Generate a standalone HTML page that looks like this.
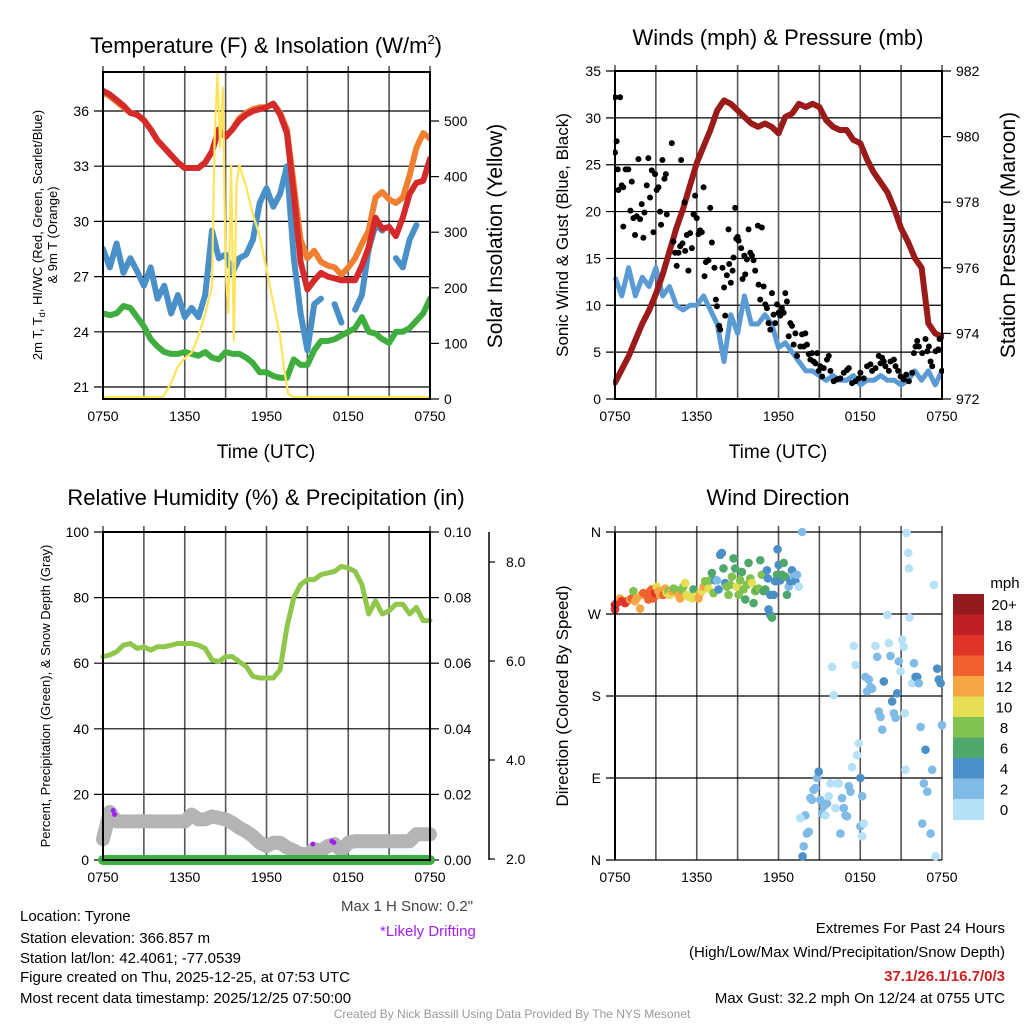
<!DOCTYPE html>
<html><head><meta charset="utf-8"><style>
body{margin:0;background:#fff;}
svg{display:block;font-family:"Liberation Sans",Arial,sans-serif;}
</style></head><body>
<svg id="fig" width="1024" height="1024" viewBox="0 0 1024 1024">
<rect width="1024" height="1024" fill="#fff"/>
<g id="p1"></g>
<g id="p2"></g>
<g id="p3"></g>
<g id="p4"></g>
<g id="txt" font-size="15" fill="#000">
<text x="341" y="911" fill="#444">Max 1 H Snow: 0.2"</text>
<text x="380" y="936" fill="#a020f0">*Likely Drifting</text>
<text x="20" y="921">Location: Tyrone</text>
<text x="20" y="943">Station elevation: 366.857 m</text>
<text x="20" y="963">Station lat/lon: 42.4061; -77.0539</text>
<text x="20" y="982">Figure created on Thu, 2025-12-25, at 07:53 UTC</text>
<text x="20" y="1003">Most recent data timestamp: 2025/12/25 07:50:00</text>
<text x="1005" y="933" text-anchor="end">Extremes For Past 24 Hours</text>
<text x="1005" y="957" text-anchor="end">(High/Low/Max Wind/Precipitation/Snow Depth)</text>
<text x="1005" y="981" text-anchor="end" fill="#cc2020" font-weight="bold">37.1/26.1/16.7/0/3</text>
<text x="1005" y="1003" text-anchor="end">Max Gust: 32.2 mph On 12/24 at 0755 UTC</text>
<text x="512" y="1018" text-anchor="middle" fill="#999" font-size="12">Created By Nick Bassill Using Data Provided By The NYS Mesonet</text>
</g>
</svg>
<script>
// ---- data (time axis: hours since 0750 UTC, half-hour steps) ----
const xTickLabels=["0750","1350","1950","0150","0750"];
const tempRed=[37.1,36.9,36.6,36.3,35.9,35.8,35.5,35.0,34.4,34.0,33.6,33.2,32.9,32.9,32.9,33.2,33.8,35.0,34.6,35.0,35.5,35.8,36.0,36.1,36.2,36.4,35.8,34.8,31.5,27.8,26.3,26.8,27.2,27.0,26.9,26.8,26.8,26.8,27.6,28.6,30.2,29.6,29.7,29.2,30.2,31.5,32.1,32.2,33.4];
const temp9m=[37.0,36.8,36.5,36.2,35.9,35.8,35.5,35.0,34.4,34.0,33.6,33.2,32.9,32.9,32.9,33.2,33.8,35.0,34.6,35.0,35.6,35.9,36.1,36.2,36.2,36.4,35.9,35.0,32.0,29.0,28.0,28.4,27.8,27.6,27.5,27.1,27.5,28.0,28.8,29.5,31.3,31.6,31.2,31.0,31.3,32.5,34.0,34.8,34.5];
const windChill=[28.5,27.5,28.8,27.2,28.0,27.3,26.5,27.5,25.8,26.5,25.0,26.0,24.8,25.3,24.8,26.0,29.5,28.0,28.2,27.2,28.0,28.2,29.0,31.0,31.8,30.8,31.5,33.0,28.0,25.0,23.0,25.5,25.8,null,25.5,24.5,null,25.2,26.0,28.5,29.8,29.5,null,28.0,27.5,29.0,29.8,null,29.0];
const dewpoint=[25.0,24.9,25.0,25.4,25.3,24.8,24.3,23.6,23.2,22.9,22.8,22.8,22.9,22.8,22.7,22.9,22.6,22.5,22.9,22.8,22.8,22.6,22.3,21.8,21.8,21.6,21.5,21.5,22.5,22.2,22.2,23.0,23.5,23.5,23.6,23.8,24.0,24.2,24.8,24.0,23.9,23.6,23.4,24.0,24.0,24.2,24.6,25.0,25.8];
const solarHours=[0,4.4,5,5.5,6,6.5,7,7.5,8,8.2,8.4,8.6,8.8,9,9.2,9.4,9.6,9.8,10,10.5,11,11.5,12,12.5,13,13.3,13.6,14,24];
const solarWatts=[0,0,25,55,70,80,110,150,200,470,585,450,560,230,150,420,100,380,420,380,330,290,230,170,110,50,5,0,0];
const pressure=[972.5,972.9,973.3,973.8,974.3,974.7,975.2,975.8,976.5,977.2,977.8,978.5,979.2,979.7,980.2,980.8,981.1,981.0,980.8,980.6,980.4,980.3,980.4,980.3,980.1,980.6,980.7,981.0,980.9,981.0,980.9,980.5,980.3,980.2,980.2,979.9,979.8,979.3,978.9,978.6,978.3,977.8,977.2,976.8,976.3,976.0,974.3,974.0,973.9];
const windSpeed=[13,11,14,11,13,12,14,11,12,10,9.5,10,10,11,9.5,8,4,9,7,11,8,8,9,8,5.5,6,5,4,3,3,2.5,2,2.5,2,2,2.5,1.5,2,2,2.5,2,2,1.5,2,3,2,3,1.5,3];
const gustHours=[0,0,0.12,0.2,0.25,0.37,0.49,0.61,0.61,0.78,0.98,1.13,1.23,1.35,1.47,1.59,1.72,1.84,1.96,2.08,2.16,2.33,2.45,2.57,2.7,2.82,2.94,3.06,3.19,3.31,3.38,3.48,3.63,3.73,3.8,4.17,4.29,4.41,4.53,4.66,4.78,4.85,4.95,5.1,5.15,5.27,5.39,5.51,5.64,5.76,5.88,6.0,6.13,6.25,6.37,6.5,6.57,6.67,6.86,6.99,7.11,7.3,7.4,7.48,7.65,7.72,7.89,8.01,8.09,8.21,8.33,8.38,8.5,8.63,8.7,8.82,8.9,9.0,9.07,9.26,9.36,9.49,9.56,9.68,9.8,9.93,10.05,10.17,10.29,10.49,10.54,10.66,10.78,10.91,11.03,11.15,11.27,11.4,11.52,11.64,11.76,11.89,12.01,12.13,12.25,12.38,12.5,12.62,12.75,12.87,12.99,13.11,13.24,13.36,13.6,13.73,13.85,13.97,14.09,14.22,14.34,14.46,14.58,14.71,14.83,14.95,15.07,15.2,15.32,15.56,15.69,15.81,16.05,16.3,16.54,16.79,17.03,17.16,17.4,17.65,17.89,18.01,18.26,18.5,18.75,18.87,19.12,19.36,19.49,19.61,19.73,19.85,20.1,20.22,20.47,20.59,20.78,20.96,21.2,21.37,21.57,21.81,21.94,22.06,22.18,22.3,22.55,22.79,22.92,23.04,23.16,23.28,23.53,23.73,23.82,24];
const gustMph=[26.3,32.2,27.5,24.5,22.3,32.2,22.8,22.6,18.4,24.5,24.5,20.1,23.2,19.3,17.5,19.5,25.6,19.2,20.8,17.2,19.9,22.8,25.7,21.5,24.4,17.8,24.0,22.3,22.6,20.0,18.6,25.5,23.5,24.0,19.7,27.3,16.8,15.6,14.2,15.6,16.3,25.5,16.6,21.0,15.8,17.5,13.7,17.7,16.1,19.7,21.7,19.3,17.6,18.0,17.8,22.6,13.1,14.6,14.8,20.4,16.7,14.0,10.6,9.9,7.8,7.4,14.0,11.9,8.9,13.2,18.1,14.4,12.4,13.7,15.1,20.4,17.1,17.3,16.9,16.1,12.8,15.3,13.3,14.9,18.1,15.6,15.3,14.8,13.7,18.5,12.2,10.6,18.3,12.0,10.1,9.7,8.1,7.4,11.3,9.0,8.1,10.1,9.2,8.9,9.7,9.2,11.3,10.4,6.7,8.1,7.8,5.8,7.0,4.6,5.6,6.9,5.6,7.0,5.8,4.8,4.2,4.9,4.0,3.8,4.9,3.0,3.5,2.4,3.3,4.2,4.6,3.0,1.9,2.1,2.2,2.8,3.1,3.3,1.7,1.9,2.2,2.8,2.2,3.5,3.7,3.0,3.3,4.6,3.8,4.4,4.0,3.5,3.0,4.0,4.2,3.5,3.0,2.4,2.1,2.6,1.9,2.8,4.9,5.6,6.2,5.6,4.9,6.4,5.1,5.6,4.0,3.5,5.1,5.3,6.4,3.0];
const humidity=[62,62.5,63.5,65.5,66,64.5,65,64,65,65,65.5,66,66,66,65.5,64.5,61,60.5,62,62,60.5,59,56,55.5,55.5,55.5,58,71,80,84,85.5,85.5,87,87.5,88,89.5,89,88,84,75,79,75,76,78,78,75,77,73,73];
const snowDepth=[2.4,2.95,2.76,2.76,2.76,2.76,2.76,2.76,2.76,2.76,2.76,2.76,2.76,2.9,2.8,2.8,2.86,2.83,2.8,2.73,2.63,2.56,2.46,2.33,2.26,2.33,2.33,2.23,2.17,2.1,2.1,2.2,2.17,2.26,2.3,2.17,2.33,2.36,2.36,2.36,2.36,2.36,2.36,2.36,2.36,2.36,2.5,2.5,2.5];
const precip=[0,0,0,0,0,0,0,0,0,0,0,0,0,0,0,0,0,0,0,0,0,0,0,0,0,0,0,0,0,0,0,0,0,0,0,0,0,0,0,0,0,0,0,0,0,0,0,0,0];
const driftHours=[0.75,0.85,15.4,16.8,16.95];
const driftDepth=[2.98,2.9,2.3,2.36,2.33];
const dirHours=[0,0,0.12,0.25,0.37,0.49,0.74,0.86,1.10,1.23,1.35,1.47,1.59,1.84,1.96,2.08,2.33,2.45,2.57,2.70,2.82,2.94,3.06,3.19,3.31,3.55,3.68,3.80,3.92,4.04,4.17,4.29,4.41,4.66,4.78,4.90,5.02,5.15,5.27,5.39,5.64,5.76,5.88,6.13,6.25,6.37,6.5,6.62,6.74,6.86,6.99,7.11,7.23,7.35,7.48,7.60,7.72,7.84,7.96,8.09,8.21,8.33,8.45,8.58,8.70,8.82,8.94,9.07,9.19,9.31,9.43,9.56,9.68,9.80,9.93,10.05,10.17,10.29,10.41,10.54,10.66,10.78,10.91,11.03,11.15,11.22,11.40,11.27,11.40,11.52,11.64,11.76,11.89,11.93,12.01,12.13,12.25,12.38,12.50,12.62,12.75,12.87,12.99,13.11,13.24,13.36,13.48,13.73,13.77,13.85,13.97,14.09,13.60,14.22,14.34,14.46,14.58,14.71,14.83,14.95,15.07,15.20,15.32,15.44,15.56,15.69,15.81,15.93,16.05,16.18,16.30,16.42,16.54,16.67,16.79,16.91,17.03,17.16,17.28,17.40,17.52,17.65,17.77,17.89,18.01,18.14,18.01,18.26,18.14,18.38,18.50,18.63,18.75,18.87,19.12,19.24,19.36,19.49,19.61,19.73,19.98,20.10,20.22,20.34,20.47,20.59,20.71,20.83,20.96,21.08,21.20,21.27,21.32,21.40,21.52,21.57,21.62,21.81,21.94,22.06,22.18,22.30,22.43,22.55,22.67,22.79,22.92,23.16,23.28,23.41,23.53,23.65,23.77,23.90,24.0];
const dirDeg=[275,280,282,284,287,284,282,284,286,287,295,284,287,276,291,293,291,286,295,297,287,293,300,295,291,291,298,293,295,291,295,298,297,291,287,297,300,304,291,289,287,297,289,287,293,295,300,306,304,298,307,315,293,307,307,297,335,337,320,304,300,291,302,311,331,320,300,291,307,316,297,286,302,326,309,304,282,295,297,298,329,313,295,297,318,309,291,275,269,266,291,306,313,341,324,307,313,326,311,291,300,306,318,311,306,313,300,360,4,15,49,29,46,31,68,66,77,79,90,97,66,51,59,49,62,70,84,212,181,57,84,84,29,68,57,49,48,81,75,102,235,214,115,128,90,70,37,40,26,201,185,198,190,188,235,223,163,157,143,196,269,238,224,174,161,156,183,218,207,242,234,161,99,359,337,320,266,194,216,201,201,194,146,40,84,121,75,29,99,302,4,210,198,194,148];
const dirMph=[16,18,17,16,13,17,16,17,12,14,8,12,13,13,13,15,14,14,15,14,15,16,11,12,13,14,12,10,8,11,12,8,8,13,12,8,9,10,10,10,10,7,11,13,12,10,12,8,9,11,8,7,8,5,3,4,4,4,6,5,8,8,8,8,7,7,10,9,8,6,8,7,8,7,8,10,7,8,6,8,7,9,7,6,4,4,4,4,5,6,4,4,6,4,4,4,6,6,6,6,3,4,4,3,4,2,1,2,4,2,2,2,0,2,2,2,2,2,2,4,2,2,2,1,2,1,0,0,0,0,1,0,3,2,2,2,3,3,2,0,0,0,1,1,4,2,3,0,0,3,2,2,2,3,1,3,3,3,2,4,0,1,3,4,3,3,4,3,1,1,1,0,0,0,0,0,0,0,3,5,5,3,3,3,3,5,2,3,3,0,0,4,4,4,3];
const speedBinLabels=["0","2","4","6","8","10","12","14","16","18","20+"];
const speedBinColors=["#b6e1f7","#7fbbe6","#4a8fc7","#4ea86b","#82c250","#e6df55","#f6a645","#f0612e","#df3427","#be2026","#931a1d"];

// ---- helpers ----
const NS="http://www.w3.org/2000/svg";
function mk(parent,tag,attrs){const e=document.createElementNS(NS,tag);for(const k in attrs)e.setAttribute(k,attrs[k]);parent.appendChild(e);return e;}
function txt(parent,x,y,s,attrs){const e=mk(parent,'text',Object.assign({x:x,y:y},attrs||{}));e.textContent=s;return e;}
function timeScale(x0,x1){return t=>x0+t/24*(x1-x0);}
function linScale(v0,y0,v1,y1){return v=>y0+(v-v0)/(v1-v0)*(y1-y0);}
function pathFrom(xs,ys,fx,fy){let d='',pen=false;for(let i=0;i<ys.length;i++){if(ys[i]===null){pen=false;continue;}d+=(pen?'L':'M')+fx(xs[i]).toFixed(1)+','+fy(ys[i]).toFixed(1);pen=true;}return d;}
const halfHours=tempRed.map((_,i)=>i*0.5);

function frame(g,x0,x1,y0,y1,leftTicks,fyL,leftFmt){
  const fx=timeScale(x0,x1);
  for(let h=0;h<=24;h+=3){
    const l=mk(g,'line',{x1:fx(h),x2:fx(h),y1:y0-6,y2:y1,stroke:'#555','stroke-width':1.6});
    
    
  }
  xTickLabels.forEach((s,i)=>{
    const t=txt(g,fx(i*6),y1+22,s,{'font-size':14,'text-anchor':'middle'});
    
    
  });
  leftTicks.forEach(v=>{
    const y=fyL(v);
    const l=mk(g,'line',{x1:x0-9,x2:x1,y1:y,y2:y,stroke:'#000','stroke-width':1.2});
    
    
    const t=txt(g,x0-14,y+5,leftFmt(v),{'font-size':14,'text-anchor':'end'});
    
    
  });
}
function border(g,x0,x1,y0,y1){
  const r=mk(g,'rect',{x:x0,y:y0,width:x1-x0,height:y1-y0,fill:'none',stroke:'#000','stroke-width':2});
  
  
}
function rightAxis(g,x1,ticks,fy,fmt){
  ticks.forEach(v=>{const y=fy(v);
    const l=mk(g,'line',{x1:x1,x2:x1+9,y1:y,y2:y,stroke:'#000','stroke-width':1.2});
    
    
    const t=txt(g,x1+14,y+5,fmt(v),{'font-size':14});
    
    
  });
}
function title(g,x,y,s,size,rot,name){
  const t=txt(g,x,y,s,{'font-size':size,'text-anchor':'middle'});
  if(rot)t.setAttribute('transform','rotate(-90 '+x+' '+y+')');
  
  
  return t;
}

// ---- Panel 1 ----
(function(){
  const g=document.getElementById('p1');
  const X0=103,X1=430,Y0=72,Y1=399;
  const fx=timeScale(X0,X1), fy=linScale(21,387,36,111), fs=linScale(0,397,500,120);
  frame(g,X0,X1,Y0,Y1,[21,24,27,30,33,36],fy,v=>String(v));
  rightAxis(g,X1,[0,100,200,300,400,500],linScale(0,399,500,121),v=>String(v));
  const cp=mk(g,'clipPath',{id:'c1'});mk(cp,'rect',{x:X0,y:Y0,width:X1-X0,height:Y1-Y0});
  const L=mk(g,'g',{'clip-path':'url(#c1)'});
  const series=[[dewpoint,'#3fae3f','dewpoint-line'],[windChill,'#4a90c8','windchill-line'],[temp9m,'#f08030','temp-9m-line'],[tempRed,'#d42a2a','temp-2m-line']];
  series.forEach(s=>{const p=mk(L,'path',{d:pathFrom(halfHours,s[0],fx,fy),fill:'none',stroke:s[1],'stroke-width':6,'stroke-linejoin':'round','stroke-linecap':'round'});
    
    });
  const sp=mk(L,'path',{d:pathFrom(solarHours,solarWatts,fx,fs),fill:'none',stroke:'#ffe45a','stroke-width':2.2});
  
  
  border(g,X0,X1,Y0,Y1);
  const tt=txt(g,266,53,'Temperature (F) & Insolation (W/m',{'font-size':22,'text-anchor':'middle'});
  const sup=mk(tt,'tspan',{'font-size':13,dy:-9});sup.textContent='2';
  const cl=mk(tt,'tspan',{dy:9});cl.textContent=')';
  
  
  title(g,266,458,'Time (UTC)',19,false,'x-axis-title');
  const yt=txt(g,42,235,'',{'font-size':13,'text-anchor':'middle',transform:'rotate(-90 42 235)'});
  yt.innerHTML='2m T, T<tspan font-size="9" dy="3">d</tspan><tspan dy="-3">, HI/WC (Red, Green, Scarlet/Blue)</tspan>';
  
  
  title(g,57,235,'& 9m T (Orange)',13,true,'y-axis-title-line2');
  title(g,502,236,'Solar Insolation (Yellow)',21,true,'right-axis-title');
})();

// ---- Panel 2 ----
(function(){
  const g=document.getElementById('p2');
  const X0=615,X1=942,Y0=71,Y1=399;
  const fx=timeScale(X0,X1), fy=linScale(0,399,35,71), fp=linScale(972,399,982,71);
  frame(g,X0,X1,Y0,Y1,[0,5,10,15,20,25,30,35],fy,v=>String(v));
  rightAxis(g,X1,[972,974,976,978,980,982],fp,v=>String(v));
  const cp=mk(g,'clipPath',{id:'c2'});mk(cp,'rect',{x:X0-2,y:Y0,width:X1-X0+4,height:Y1-Y0+2});
  const L=mk(g,'g',{'clip-path':'url(#c2)'});
  const w=mk(L,'path',{d:pathFrom(halfHours,windSpeed,fx,fy),fill:'none',stroke:'#5b9bd5','stroke-width':5,'stroke-linejoin':'round'});
  
  
  const p=mk(L,'path',{d:pathFrom(halfHours,pressure,fx,fp),fill:'none',stroke:'#9b1b1b','stroke-width':6,'stroke-linejoin':'round','stroke-linecap':'round'});
  
  
  gustHours.forEach((h,i)=>{const c=mk(L,'circle',{cx:fx(h),cy:fy(gustMph[i]),r:3,fill:'#000'});
    
    });
  border(g,X0,X1,Y0,Y1);
  title(g,778,45,'Winds (mph) & Pressure (mb)',22,false,'winds-title');
  title(g,778,458,'Time (UTC)',19,false,'x-axis-title');
  title(g,568,235,'Sonic Wind & Gust (Blue, Black)',17,true,'y-axis-title');
  title(g,1015,235,'Station Pressure (Maroon)',21,true,'right-axis-title');
})();

// ---- Panel 3 ----
(function(){
  const g=document.getElementById('p3');
  const X0=103,X1=430,Y0=532,Y1=860;
  const fx=timeScale(X0,X1), fy=linScale(0,860,100,532), fr=linScale(0,860,0.1,532), fsn=linScale(2,859,8,562);
  frame(g,X0,X1,Y0,Y1,[0,20,40,60,80,100],fy,v=>String(v));
  rightAxis(g,X1,[0,0.02,0.04,0.06,0.08,0.1],fr,v=>v.toFixed(2));
  const ax=mk(g,'line',{x1:489,x2:489,y1:532,y2:860,stroke:'#000','stroke-width':1.5});
  
  
  [2,4,6,8].forEach(v=>{const y=fsn(v);mk(g,'line',{x1:489,x2:495,y1:y,y2:y,stroke:'#000','stroke-width':1.2});
    const t=txt(g,506,y+5,v.toFixed(1),{'font-size':14});
    
    });
  const sn=mk(g,'path',{d:pathFrom(halfHours,snowDepth,fx,fsn),fill:'none',stroke:'#b4b4b4','stroke-width':14,'stroke-linejoin':'round','stroke-linecap':'round'});
  
  
  const pr=mk(g,'path',{d:pathFrom(halfHours,precip,fx,fr),fill:'none',stroke:'#3cb043','stroke-width':10,'stroke-linecap':'round'});
  
  
  const rh=mk(g,'path',{d:pathFrom(halfHours,humidity,fx,fy),fill:'none',stroke:'#8fc74a','stroke-width':5,'stroke-linejoin':'round','stroke-linecap':'round'});
  
  
  driftHours.forEach((h,i)=>{const c=mk(g,'circle',{cx:fx(h),cy:fsn(driftDepth[i]),r:2.5,fill:'#a020f0'});
    
    });
  border(g,X0,X1,Y0,Y1);
  mk(g,'line',{x1:X0,x2:X1,y1:Y1,y2:Y1,stroke:'#000','stroke-width':2});
  title(g,266,505,'Relative Humidity (%) & Precipitation (in)',22,false,'humidity-title');
  title(g,50,696,'Percent, Precipitation (Green), & Snow Depth (Gray)',13,true,'y-axis-title');
})();

// ---- Panel 4 ----
(function(){
  const g=document.getElementById('p4');
  const X0=615,X1=942,Y0=532,Y1=860;
  const fx=timeScale(X0,X1), fy=linScale(0,860,360,532);
  const dirLabels=['N','E','S','W','N'];
  frame(g,X0,X1,Y0,Y1,[0,90,180,270,360],fy,v=>dirLabels[v/90]);
  const cp=mk(g,'clipPath',{id:'c4'});mk(cp,'rect',{x:X0-6,y:Y0-6,width:X1-X0+12,height:Y1-Y0+12});
  const L=mk(g,'g',{'clip-path':'url(#c4)'});
  dirHours.forEach((h,i)=>{
    const b=Math.min(10,Math.floor(dirMph[i]/2+0.25));
    const c=mk(L,'circle',{cx:fx(h),cy:fy(dirDeg[i]),r:4.3,fill:speedBinColors[b]});
    
    
  });
  mk(g,'line',{x1:X0,x2:X0,y1:Y0,y2:Y1,stroke:'#000','stroke-width':2});
  title(g,778,505,'Wind Direction',22,false,'wind-direction-title');
  title(g,568,696,'Direction (Colored By Speed)',17,true,'y-axis-title');
  const cb=mk(g,'g',{});
  
  
  const top=594,h=20.5;
  for(let k=0;k<11;k++){
    const idx=10-k;
    const r=mk(cb,'rect',{x:953,y:top+k*h,width:31,height:h+0.5,fill:speedBinColors[idx]});
    
    
    const t=txt(cb,1004,top+k*h+h/2+5.5,speedBinLabels[idx],{'font-size':15,'text-anchor':'middle'});
    
    
  }
  const u=txt(cb,1005,588,'mph',{'font-size':15,'text-anchor':'middle'});
  
  
})();
</script>
</body></html>
